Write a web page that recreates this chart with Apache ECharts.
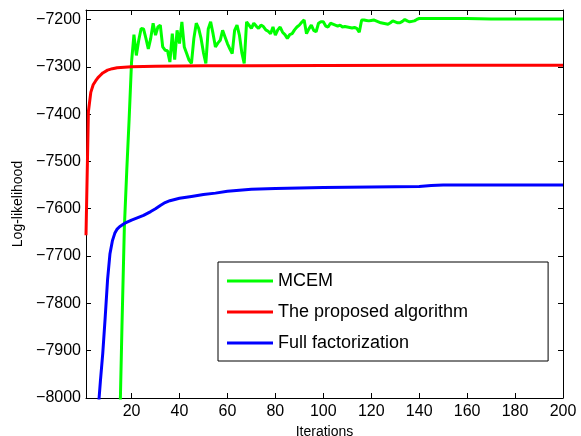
<!DOCTYPE html>
<html>
<head>
<meta charset="utf-8">
<script src="https://cdn.jsdelivr.net/npm/echarts@6/dist/echarts.min.js"></script>
<style>
html,body{margin:0;padding:0;background:#fff;}
#c{width:581px;height:436px;}
</style>
</head>
<body>
<div id="c"></div>
<script>
var xTicks = [20, 40, 60, 80, 100, 120, 140, 160, 180, 200];

var mcemIter = [14,15,16,17,18,19,20,21,22,23,24,25,26,27,28,29,30,31,32,33,34,35,36,37,38,39,40,
  41,42,43,44,45,46,47,48,49,50,51,52,53,54,55,56,57,58,59,60,61,62,63,64,65,66,67,68,69,70,
  71,72,73,74,75,76,77,78,79,80,81,82,83,84,85,86,87,88,89,90,91,92,93,94,95,96,97,98,99,100,
  101,102,103,104,105,106,107,108,109,110,111,112,113,114,115,116,117,118,119,120,
  121,122,123,124,125,126,127,128,129,130,131,132,133,134,135,136,137,138,139,140,
  150,160,170,180,190,200];
var mcemLL = [-8300,-8080,-7850,-7640,-7520,-7410,-7290,-7232,-7276,-7244,-7219,-7220,-7240,-7262,-7240,-7208,-7233,-7216,-7212,-7258,-7265,-7266,-7290,-7230,-7285,-7223,-7251,
  -7205,-7258,-7272,-7286,-7293,-7240,-7208,-7219,-7240,-7270,-7293,-7220,-7205,-7230,-7258,-7250,-7244,-7223,-7237,-7251,-7262,-7272,-7223,-7212,-7233,-7270,-7293,-7205,-7212,-7219,
  -7208,-7214,-7219,-7212,-7215,-7222,-7225,-7230,-7216,-7233,-7222,-7216,-7227,-7232,-7240,-7232,-7230,-7222,-7216,-7212,-7206,-7201,-7230,-7220,-7212,-7223,-7226,-7208,-7205,-7205,
  -7214,-7216,-7208,-7210,-7212,-7214,-7212,-7216,-7215,-7216,-7217,-7218,-7217,-7219,-7227,-7201,-7201,-7202,-7203,-7202,
  -7201,-7203,-7205,-7207,-7208,-7209,-7210,-7207,-7203,-7205,-7207,-7207,-7204,-7200,-7203,-7205,-7204,-7203,-7200,-7198,
  -7198,-7198,-7199,-7199,-7199,-7199];

var propIter = [1,2,3,4,5,6,7,8,10,12,14,17,20,25,30,40,50,70,100,150,200];
var propLL = [-7656,-7395,-7354,-7338,-7330,-7323,-7318,-7313,-7307,-7304,-7302,-7301,-7300,-7299.5,-7299,-7298.5,-7298,-7298,-7297.5,-7297,-7297];

var fullIter = [1,3,5,6,7,8,9,10,11,12,13,14,15,17,20,25,28,30,32,34,36,40,45,50,55,60,65,70,80,90,100,120,140,145,150,200];
var fullLL = [-8400,-8230,-8090,-8030,-7965,-7905,-7830,-7750,-7695,-7668,-7652,-7643,-7638,-7631,-7624,-7614,-7606,-7600,-7593,-7587,-7583,-7578,-7574,-7570,-7567,-7563,-7561,-7559,-7557,-7556,-7555,-7554,-7553,-7551,-7550,-7550];

function pairs(xs, ys) { return xs.map(function (x, i) { return [x, ys[i]]; }); }

var font = 'Liberation Sans, Arial, Helvetica, sans-serif';
var chart = echarts.init(document.getElementById('c'), null, {renderer: 'canvas'});
var axisLineStyle = {color: '#000', width: 1};
var yFmt = function (v) { return (Math.round(v) % 100 === 0) ? String(v).replace('-', '\u2212') : ''; };

chart.setOption({
  animation: false,
  backgroundColor: '#fff',
  grid: {left: 86, right: 18, top: 10, bottom: 38, containLabel: false, outerBoundsMode: 'none'},
  xAxis: [{
    type: 'value', min: 1, max: 200, position: 'bottom',
    name: 'Iterations', nameLocation: 'middle', nameGap: 16,
    nameTextStyle: {fontFamily: font, fontSize: 14, color: '#000'},
    axisLine: {show: true, onZero: false, lineStyle: axisLineStyle},
    axisTick: {show: true, inside: true, length: 5, customValues: xTicks, lineStyle: {color: '#000'}},
    axisLabel: {show: true, customValues: xTicks, margin: 6, fontFamily: font, fontSize: 16, color: '#000'},
    splitLine: {show: false}
  }, {
    type: 'value', min: 1, max: 200, position: 'top',
    axisLine: {show: true, onZero: false, lineStyle: axisLineStyle},
    axisTick: {show: true, inside: true, length: 5, customValues: xTicks, lineStyle: {color: '#000'}},
    axisLabel: {show: false},
    splitLine: {show: false}
  }],
  yAxis: [{
    type: 'value', min: -8000, max: -7180, interval: 100, position: 'left',
    name: 'Log-likelihood', nameLocation: 'middle', nameGap: 60,
    nameTextStyle: {fontFamily: font, fontSize: 14, color: '#000'},
    axisLine: {show: true, onZero: false, lineStyle: axisLineStyle},
    axisTick: {show: true, inside: true, length: 5, lineStyle: {color: '#000'}},
    axisLabel: {show: true, margin: 5, fontFamily: font, fontSize: 16, color: '#000', formatter: yFmt, showMaxLabel: false},
    splitLine: {show: false}
  }, {
    type: 'value', min: -8000, max: -7180, interval: 100, position: 'right',
    axisLine: {show: true, onZero: false, lineStyle: axisLineStyle},
    axisTick: {show: true, inside: true, length: 5, lineStyle: {color: '#000'}},
    axisLabel: {show: false},
    splitLine: {show: false}
  }],
  legend: {
    orient: 'vertical', left: 218, top: 262,
    padding: [10, 80, 9, 9],
    itemGap: 13, itemWidth: 46, itemHeight: 3,
    icon: 'rect',
    backgroundColor: '#fff',
    borderColor: '#000', borderWidth: 1,
    textStyle: {fontFamily: font, fontSize: 18, color: '#000', lineHeight: 18},
    data: ['MCEM', 'The proposed algorithm', 'Full factorization']
  },
  series: [{
    name: 'MCEM', type: 'line', data: pairs(mcemIter, mcemLL),
    showSymbol: false, symbol: 'none', clip: true,
    lineStyle: {color: '#00ff00', width: 3}, itemStyle: {color: '#00ff00'}
  }, {
    name: 'The proposed algorithm', type: 'line', data: pairs(propIter, propLL),
    showSymbol: false, symbol: 'none', clip: true,
    lineStyle: {color: '#ff0000', width: 3}, itemStyle: {color: '#ff0000'}
  }, {
    name: 'Full factorization', type: 'line', data: pairs(fullIter, fullLL),
    showSymbol: false, symbol: 'none', clip: true,
    lineStyle: {color: '#0000ff', width: 3}, itemStyle: {color: '#0000ff'}
  }]
});
</script>
</body>
</html>
